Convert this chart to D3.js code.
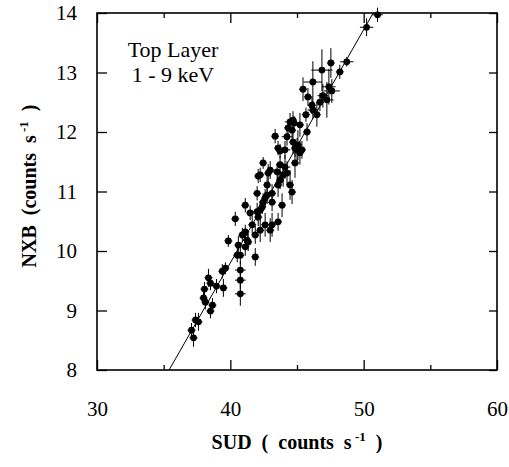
<!DOCTYPE html>
<html lang="en">
<head>
<meta charset="UTF-8">
<title>NXB vs SUD</title>
<script src="https://d3js.org/d3.v7.min.js"></script>
<style>
  body { margin: 0; background: #fff; }
  text { font-family: "Liberation Serif", "Times New Roman", serif; fill: #000; white-space: pre; }
</style>
</head>
<body>
<svg id="chart" width="509" height="467"></svg>
<script>
// SUD rate (x), NXB rate (y) and their 1-sigma errors
const sud = [51.04,50.22,48.73,48.21,47.54,46.87,46.19,45.45,47.39,47.61,
  45.82,46.94,46.72,47.24,46.12,46.19,46.49,45.67,44.48,44.78,
  45.22,44.33,44.63,43.36,45.75,44.25,44.70,45.07,43.58,44.10,
  43.73,45.22,44.85,42.46,43.73,44.10,44.85,42.99,43.51,42.24,
  42.84,43.96,42.76,43.58,44.48,42.01,44.63,42.76,43.13,42.46,
  42.39,41.12,43.88,42.24,41.49,42.01,40.37,42.09,41.64,42.61,
  43.58,43.13,41.12,42.24,42.99,40.90,41.87,39.85,41.27,40.60,
  41.12,41.34,41.87,40.52,40.75,40.75,40.75,39.63,39.40,38.36,
  38.51,38.96,38.06,39.48,37.99,38.13,38.66,38.51,37.39,37.61,
  37.09,37.24,42.61,43.73,44.25,43.13,45.00,45.37,44.70,42.09,40.75];
const nxb = [13.97,13.76,13.18,13.01,13.16,13.04,12.84,12.72,12.76,12.69,
  12.59,12.61,12.50,12.54,12.45,12.37,12.29,12.29,12.17,12.15,
  12.12,12.07,12.03,11.93,12.00,11.92,11.83,11.78,11.73,11.70,
  11.68,11.65,11.73,11.48,11.45,11.41,11.48,11.36,11.33,11.28,
  11.31,11.28,11.11,11.11,11.11,10.97,10.99,10.94,10.97,10.82,
  10.74,10.77,10.77,10.69,10.64,10.66,10.54,10.57,10.44,10.44,
  10.49,10.44,10.32,10.35,10.35,10.27,10.27,10.17,10.18,10.10,
  10.07,10.15,9.90,9.93,9.68,9.51,9.28,9.71,9.66,9.55,
  9.46,9.41,9.36,9.38,9.21,9.14,9.09,8.99,8.84,8.81,
  8.67,8.54,10.89,11.19,11.31,10.82,11.70,11.70,12.20,11.26,9.93];
const sudErr = [0.4,0.5,0.5,0.3,0.3,0.8,0.7,0.3,0.5,0.6,
  0.3,0.4,0.3,0.5,0.3,0.4,0.3,0.3,0.4,0.3,
  0.3,0.3,0.3,0.3,0.3,0.4,0.3,0.3,0.3,0.4,
  0.3,0.3,0.3,0.3,0.3,0.4,0.3,0.3,0.3,0.3,
  0.3,0.3,0.3,0.3,0.3,0.3,0.3,0.3,0.3,0.3,
  0.3,0.3,0.3,0.3,0.3,0.3,0.3,0.3,0.3,0.3,
  0.3,0.3,0.3,0.3,0.3,0.3,0.3,0.3,0.3,0.3,
  0.3,0.3,0.3,0.3,0.4,0.4,0.4,0.3,0.3,0.3,
  0.3,0.3,0.3,0.3,0.3,0.3,0.3,0.3,0.3,0.3,
  0.3,0.3,0.3,0.3,0.3,0.3,0.3,0.3,0.3,0.3,0.3];
const nxbErr = [0.12,0.15,0.08,0.12,0.25,0.35,0.35,0.2,0.3,0.2,
  0.15,0.2,0.15,0.3,0.15,0.15,0.2,0.12,0.15,0.12,
  0.2,0.12,0.15,0.12,0.15,0.15,0.2,0.25,0.12,0.15,
  0.12,0.2,0.15,0.1,0.15,0.2,0.25,0.15,0.15,0.12,
  0.15,0.2,0.15,0.2,0.25,0.12,0.2,0.15,0.15,0.15,
  0.12,0.12,0.2,0.15,0.12,0.15,0.12,0.15,0.15,0.2,
  0.15,0.2,0.12,0.2,0.2,0.12,0.15,0.1,0.15,0.15,
  0.15,0.15,0.15,0.12,0.15,0.15,0.2,0.1,0.12,0.15,
  0.12,0.12,0.12,0.15,0.12,0.12,0.12,0.12,0.12,0.15,
  0.12,0.15,0.15,0.15,0.2,0.15,0.2,0.15,0.15,0.12,0.15];

// linear fit NXB = a + b * SUD
const fitA = -5.88, fitB = 0.392;

const xMajor = [30,40,50,60], xMinor = [35,45,55];
const yMajor = [8,9,10,11,12,13,14];

const svg = d3.select('#chart'),
    mLeft = 97, mRight = 497, mTop = 13, mBottom = 370;
const x = d3.scaleLinear().domain([30,60]).range([mLeft,mRight]),
    y = d3.scaleLinear().domain([8,14]).range([mBottom,mTop]);

const pts = sud.map((s,i)=>({x:s, y:nxb[i], ex:sudErr[i], ey:nxbErr[i]}));

// axes: inward ticks on all four sides
function axisG(axis, tx, ty){
    let g = svg.append('g').attr('transform','translate('+tx+','+ty+')').call(axis);
    g.select('.domain').remove();
    g.selectAll('line').attr('stroke','#000').attr('stroke-width',1.3);
    g.selectAll('text').style('font-size','21px').attr('fill','#000');
    return g;
}
axisG(d3.axisBottom(x).tickValues(xMajor).tickSize(-10).tickPadding(31).tickFormat(d3.format('d')), 0, mBottom);
axisG(d3.axisBottom(x).tickValues(xMinor).tickSize(-5).tickFormat(''), 0, mBottom);
axisG(d3.axisTop(x).tickValues(xMajor).tickSize(-10).tickFormat(''), 0, mTop);
axisG(d3.axisTop(x).tickValues(xMinor).tickSize(-5).tickFormat(''), 0, mTop);
axisG(d3.axisLeft(y).tickValues(yMajor).tickSize(-10).tickPadding(20).tickFormat(d3.format('d')), mLeft, 0);
axisG(d3.axisRight(y).tickValues(yMajor).tickSize(-8).tickFormat(''), mRight, 0);

svg.append('rect').attr('x',mLeft).attr('y',mTop)
    .attr('width',mRight-mLeft).attr('height',mBottom-mTop)
    .attr('fill','none').attr('stroke','#000').attr('stroke-width',1.6);

// fit line, clipped to the frame
let x0 = (8-fitA)/fitB, x1 = (14-fitA)/fitB;
svg.append('line')
    .attr('x1',x(x0)).attr('y1',y(fitA+fitB*x0))
    .attr('x2',x(x1)).attr('y2',y(fitA+fitB*x1))
    .attr('stroke','#000').attr('stroke-width',1);

// error bars
let eb = svg.append('g').attr('stroke','#000').attr('stroke-width',1);
eb.selectAll('.ex').data(pts).enter().append('line')
    .attr('x1',d=>x(d.x-d.ex)).attr('x2',d=>x(d.x+d.ex))
    .attr('y1',d=>y(d.y)).attr('y2',d=>y(d.y));
eb.selectAll('.ey').data(pts).enter().append('line')
    .attr('x1',d=>x(d.x)).attr('x2',d=>x(d.x))
    .attr('y1',d=>y(d.y-d.ey)).attr('y2',d=>y(d.y+d.ey));

// markers
svg.append('g').selectAll('circle').data(pts).enter().append('circle')
    .attr('cx',d=>x(d.x)).attr('cy',d=>y(d.y)).attr('r',3.4).attr('fill','#000');

// annotation
svg.append('text').attr('x',173).attr('y',57).attr('text-anchor','middle')
    .style('font-size','22px').text('Top Layer');
svg.append('text').attr('x',173).attr('y',82).attr('text-anchor','middle')
    .style('font-size','22px').text('1 - 9 keV');

// axis titles
let xt = svg.append('text').attr('x',297).attr('y',449).attr('text-anchor','middle')
    .style('font-size','20px').style('font-weight','bold');
xt.append('tspan').text('SUD  (  counts  s');
xt.append('tspan').attr('dy',-8).style('font-size','13px').text(' -1');
xt.append('tspan').attr('dy',8).text('  )');

let yt = svg.append('text').attr('transform','translate(36,186) rotate(-90)')
    .attr('text-anchor','middle').style('font-size','20px').style('font-weight','bold');
yt.append('tspan').text('NXB  (counts  s');
yt.append('tspan').attr('dy',-8).style('font-size','13px').text(' -1');
yt.append('tspan').attr('dy',8).text('  )');
</script>
</body>
</html>
